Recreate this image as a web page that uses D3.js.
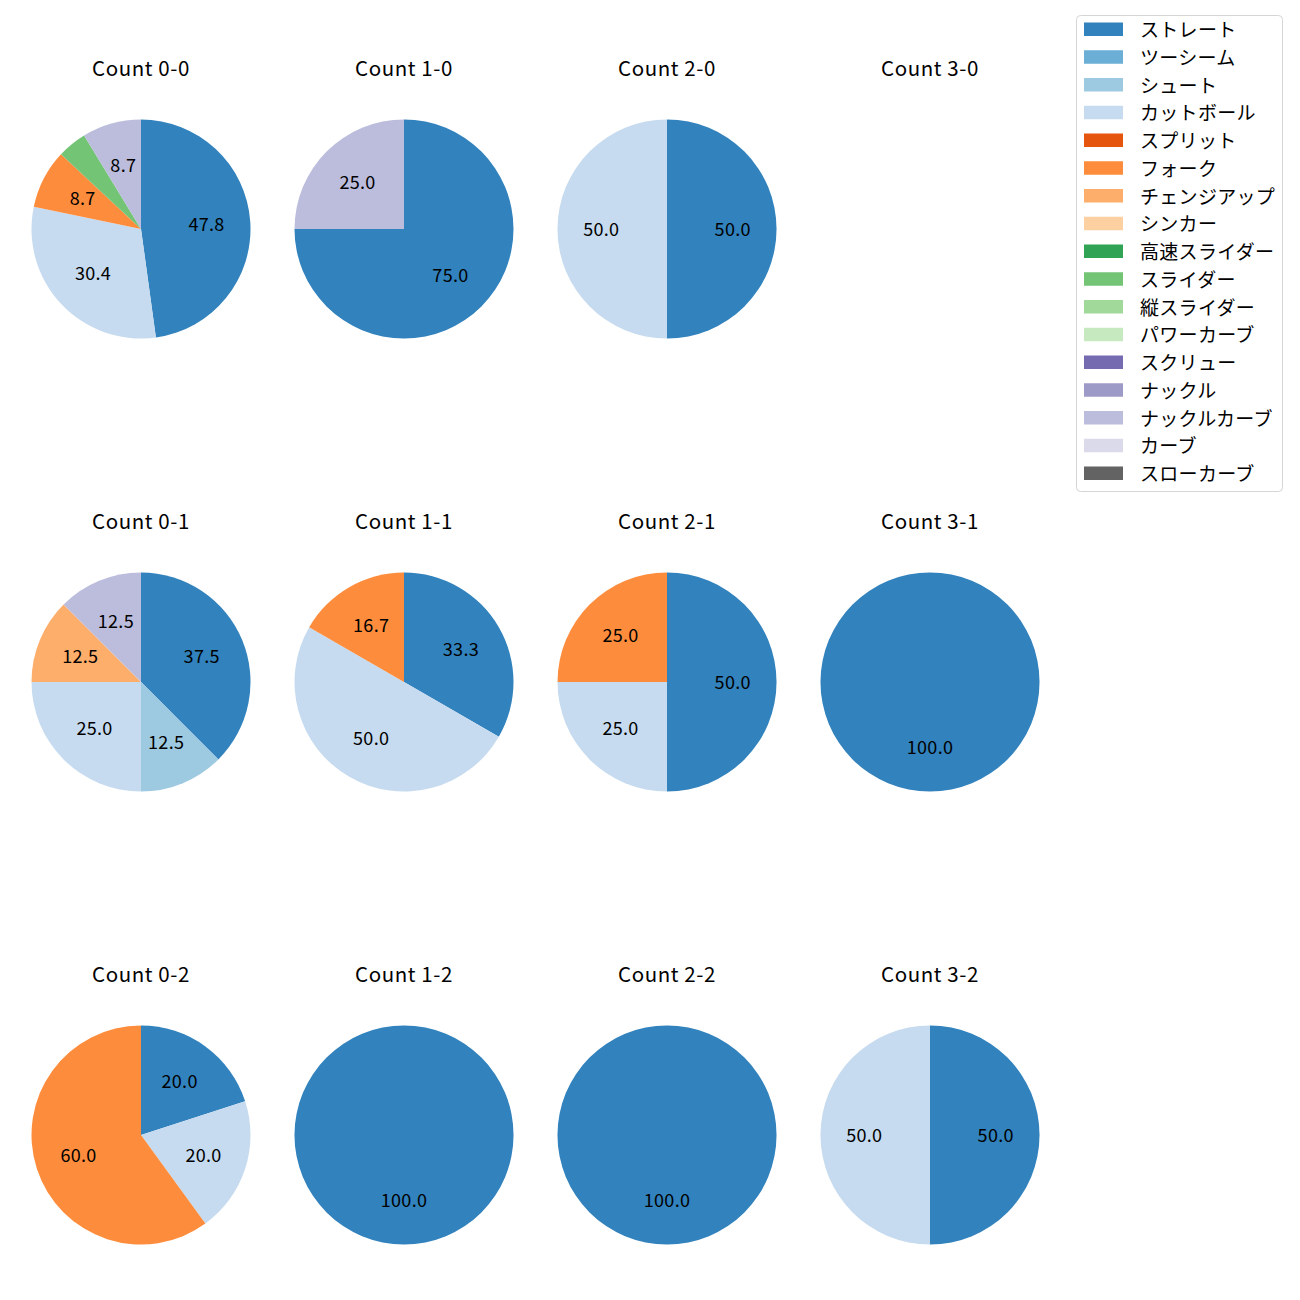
<!DOCTYPE html>
<html><head><meta charset="utf-8">
<script src="https://cdn.jsdelivr.net/npm/d3@7"></script>
<style>
body{margin:0;background:#fff;}
text{font-family:"Noto Sans CJK JP","Noto Sans",sans-serif;}
</style></head>
<body><svg id="chart" width="1300" height="1300"></svg>
<script>
// ---- data ----
const pitchTypes = ["ストレート","ツーシーム","シュート","カットボール","スプリット","フォーク","チェンジアップ","シンカー","高速スライダー","スライダー","縦スライダー","パワーカーブ","スクリュー","ナックル","ナックルカーブ","カーブ","スローカーブ"];
const pitchColors = ["#3182bd","#6baed6","#9ecae1","#c6dbef","#e6550d","#fd8d3c","#fdae6b","#fdd0a2","#31a354","#74c476","#a1d99b","#c7e9c0","#756bb1","#9e9ac8","#bcbddc","#dadaeb","#636363"];
const counts = ["0-0","1-0","2-0","3-0","0-1","1-1","2-1","3-1","0-2","1-2","2-2","3-2"];
// pitches per count (order as counts)
const straight     = [11,3,1,0,3,2,2,1,1,1,1,1];
const twoSeam      = [0,0,0,0,0,0,0,0,0,0,0,0];
const shoot        = [0,0,0,0,1,0,0,0,0,0,0,0];
const cutter       = [7,0,1,0,2,3,1,0,1,0,0,1];
const split        = [0,0,0,0,0,0,0,0,0,0,0,0];
const fork         = [2,0,0,0,0,1,1,0,3,0,0,0];
const changeup     = [0,0,0,0,1,0,0,0,0,0,0,0];
const sinker       = [0,0,0,0,0,0,0,0,0,0,0,0];
const fastSlider   = [0,0,0,0,0,0,0,0,0,0,0,0];
const slider       = [1,0,0,0,0,0,0,0,0,0,0,0];
const vSlider      = [0,0,0,0,0,0,0,0,0,0,0,0];
const powerCurve   = [0,0,0,0,0,0,0,0,0,0,0,0];
const screwball    = [0,0,0,0,0,0,0,0,0,0,0,0];
const knuckle      = [0,0,0,0,0,0,0,0,0,0,0,0];
const knuckleCurve = [2,1,0,0,1,0,0,0,0,0,0,0];
const curve        = [0,0,0,0,0,0,0,0,0,0,0,0];
const slowCurve    = [0,0,0,0,0,0,0,0,0,0,0,0];
const series = [straight,twoSeam,shoot,cutter,split,fork,changeup,sinker,fastSlider,slider,vSlider,powerCurve,screwball,knuckle,knuckleCurve,curve,slowCurve];

// ---- layout ----
const svg = d3.select("#chart");
const R = 109.5;
const xCol = d3.scalePoint().domain([0,1,2,3]).range([141, 930]);
const yRow = d3.scalePoint().domain([0,1,2]).range([229, 1135]);
const color = d3.scaleOrdinal().domain(pitchTypes).range(pitchColors);
const pie = d3.pie().sort(null).value(d => d.v);
const arc = d3.arc().innerRadius(0).outerRadius(R);
const labelArc = d3.arc().innerRadius(R*0.6).outerRadius(R*0.6);

counts.forEach((c, i) => {
  const col = i % 4, row = Math.floor(i / 4);
  const cx = xCol(col), cy = yRow(row);
  const g = svg.append("g").attr("transform", `translate(${cx},${cy})`);
  g.append("text").attr("x", 0).attr("y", -162)
    .attr("text-anchor","middle").attr("dominant-baseline","central")
    .attr("font-size", 20.5).attr("letter-spacing", 0.6).attr("fill","#000").text("Count " + c);
  const items = pitchTypes.map((p, k) => ({p, v: series[k][i]})).filter(d => d.v > 0);
  if (!items.length) return;
  const total = d3.sum(items, d => d.v);
  const arcs = pie(items);
  g.selectAll("path").data(arcs).join("path")
    .attr("d", arc).attr("fill", d => color(d.data.p));
  g.selectAll("text.lbl").data(arcs).join("text").attr("class","lbl")
    .attr("transform", d => { const [x,y] = labelArc.centroid(d); return `translate(${x},${y-1.5})`; })
    .attr("text-anchor","middle").attr("dominant-baseline","central")
    .attr("font-size", 18).attr("letter-spacing", 0.3).attr("fill","#000")
    .text(d => { const p = d.data.v / total * 100; return p >= 5 ? p.toFixed(1) : ""; });
});

// ---- legend ----
const lg = svg.append("g");
lg.append("rect").attr("x",1076.5).attr("y",15.5).attr("width",206).attr("height",476)
  .attr("rx",4).attr("fill","#fff").attr("fill-opacity",0.8).attr("stroke","#d5d5d5");
const ly = d3.scalePoint().domain(pitchTypes).range([29, 473]);
pitchTypes.forEach(p => {
  lg.append("rect").attr("x",1084).attr("y",ly(p)-6.5).attr("width",39).attr("height",13.5).attr("fill",color(p));
  lg.append("text").attr("x",1140).attr("y",ly(p)-0.5).attr("dominant-baseline","central")
    .attr("font-size",19).attr("letter-spacing",0.3).attr("fill","#000").text(p);
});
</script></body></html>
